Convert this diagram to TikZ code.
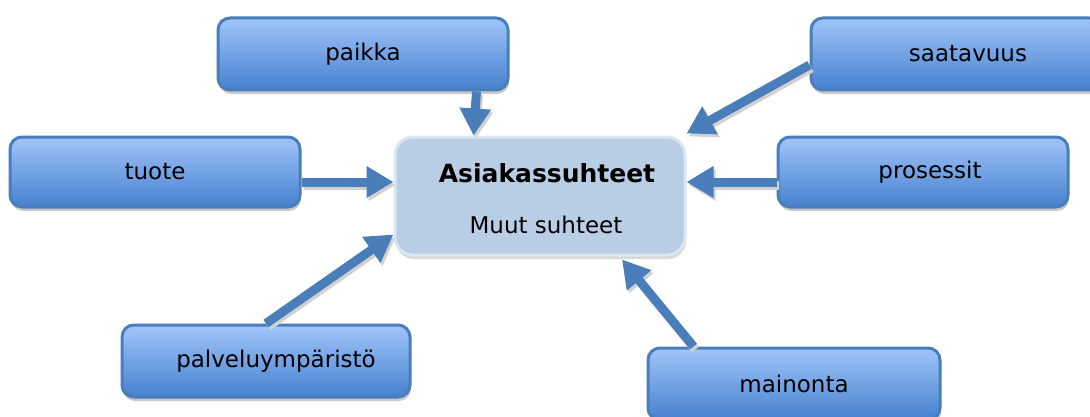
\documentclass[tikz,border=0pt]{standalone}
\usepackage{fontspec}
\setmainfont{DejaVu Sans}
\usetikzlibrary{arrows.meta,shadows,calc}
\definecolor{boxtop}{RGB}{160,197,250}
\definecolor{boxbot}{RGB}{70,128,206}
\definecolor{boxline}{RGB}{74,126,187}
\definecolor{cfill}{RGB}{185,205,229}
\definecolor{cline}{RGB}{220,230,242}
\definecolor{arrcol}{RGB}{74,126,187}
\tikzset{
  bluebox/.style={rectangle, rounded corners=12pt, draw=boxline, line width=3pt,
    top color=boxtop, bottom color=boxbot, minimum width=290pt, minimum height=70pt,
    font=\fontsize{23}{28}\selectfont, text=black,
    drop shadow={shadow xshift=1pt, shadow yshift=-4pt, fill=black!30, opacity=.7}},
  centerbox/.style={rectangle, rounded corners=18pt, draw=cline, line width=3pt,
    fill=cfill, minimum width=290pt, minimum height=118pt, align=center,
    drop shadow={shadow xshift=1pt, shadow yshift=-4pt, fill=black!25, opacity=.6}},
  arr/.style={draw=arrcol, line width=9pt, -{Triangle[width=30pt,length=27pt]}},
  arrshadow/.style={draw=black!18, line width=9pt, -{Triangle[width=30pt,length=27pt]},
    transform canvas={shift={(2pt,-3pt)}}}
}
\begin{document}
\begin{tikzpicture}[x=1pt,y=1pt]
\useasboundingbox (0,0) rectangle (1090,416);
\clip (0,0) rectangle (1090,416);
\node[centerbox] (center) at (540,220) {};
\node[font=\bfseries\fontsize{25}{30}\selectfont] (title) at (547,243) {Asiakassuhteet};
\node[font=\fontsize{23}{28}\selectfont] (sub) at (546,191) {Muut suhteet};
\node[bluebox, minimum height=72pt] (paikka) at (363,362) {paikka\hspace{12pt}};
\node[bluebox] (tuote) at (155,244) {tuote\hspace{-6pt}};
\node[bluebox, minimum height=72pt] (saatavuus) at (956,362) {\hspace{24pt}saatavuus};
\node[bluebox] (prosessit) at (923,244) {\hspace{14pt}prosessit};
\node[bluebox, minimum width=288pt, minimum height=72pt] (palv) at (266,55) {\hspace{20pt}palveluympäristö};
\node[bluebox, minimum width=292pt, minimum height=72pt] (mainonta) at (794,32) {mainonta\hspace{40pt}};
% connector start/end points
\coordinate (p1) at ($(paikka.south east)+(-33,0)$);
\coordinate (p2) at ($(center.north west)+(80,0)$);
\coordinate (t1) at ($(tuote.east)+(0,-10)$);
\coordinate (r1) at ($(prosessit.west)+(0,-10)$);
\coordinate (s1) at ($(saatavuus.west)+(0,-11)$);
\coordinate (s2) at ($(center.north east)+(0,2)$);
\coordinate (v2) at ($(center.south west)+(0,22)$);
\coordinate (m1) at ($(mainonta.north west)+(47,0)$);
\coordinate (m2) at ($(center.south)+(82,-3)$);
% shadows
\draw[arrshadow] (p1) -- (p2);
\draw[arrshadow] (t1) -- (t1 -| center.west);
\draw[arrshadow] (r1) -- (r1 -| center.east);
\draw[arrshadow] (s1) -- (s2);
\draw[arrshadow] (palv.north) -- (v2);
\draw[arrshadow] (m1) -- (m2);
% arrows
\draw[arr] (p1) -- (p2);
\draw[arr] (t1) -- (t1 -| center.west);
\draw[arr] (r1) -- (r1 -| center.east);
\draw[arr] (s1) -- (s2);
\draw[arr] (palv.north) -- (v2);
\draw[arr] (m1) -- (m2);
\end{tikzpicture}
\end{document}
